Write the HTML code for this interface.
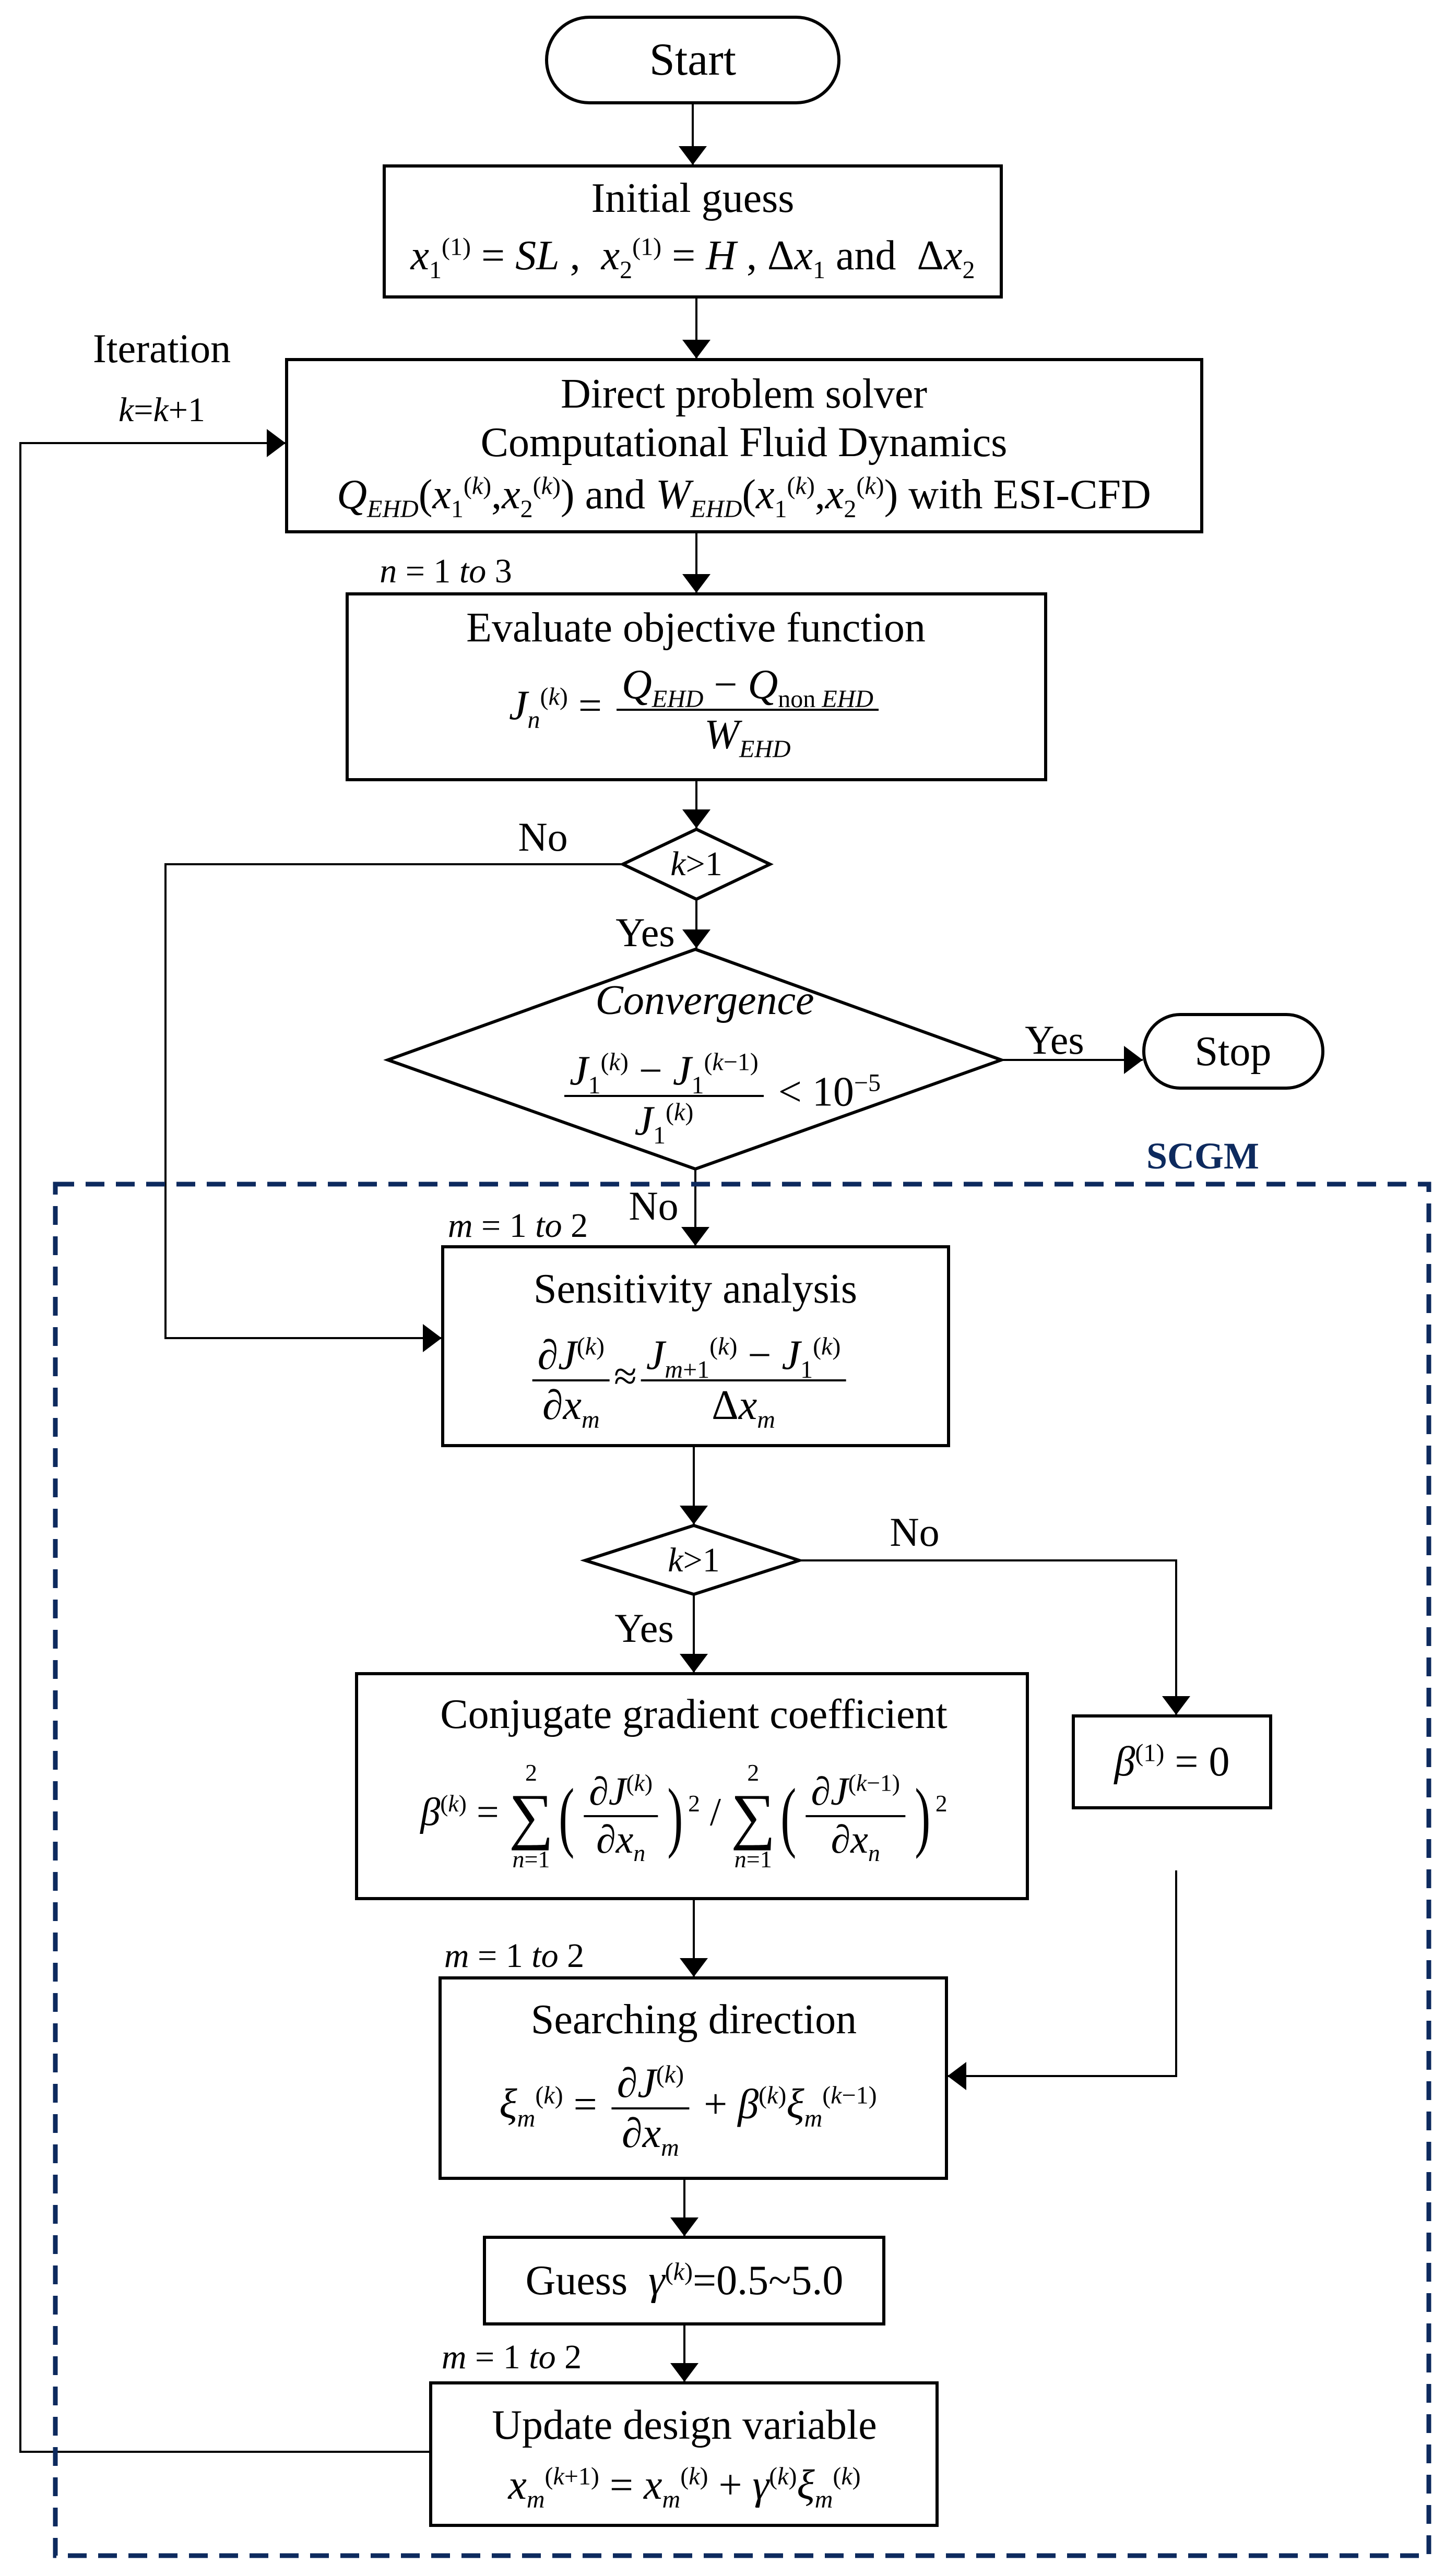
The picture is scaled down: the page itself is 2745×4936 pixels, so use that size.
<!DOCTYPE html>
<html><head><meta charset="utf-8"><style>
html,body{margin:0;padding:0;background:#fff}
body{width:2745px;height:4936px;position:relative;overflow:hidden;font-family:"Liberation Serif",serif;color:#000}
.t{position:absolute;transform:translate(-50%,-50%);white-space:nowrap;font-size:80px;line-height:1}
i{font-style:italic}
sup,sub{font-size:0.6em;line-height:0}
.frac{display:inline-flex;flex-direction:column;align-items:center;vertical-align:middle;margin:0 8px}
.frac>span{padding:4px 10px;line-height:1.05}
.frac>span:first-child{border-bottom:4px solid #000}
.big{font-size:150px;vertical-align:middle;line-height:1;display:inline-block;transform:scaleX(0.6)}
.sum{display:inline-flex;flex-direction:column;align-items:center;vertical-align:middle;line-height:1}
.sum .s{font-size:120px}
.sum .l{font-size:46px}
</style></head><body>
<svg width="2745" height="4936" style="position:absolute;left:0;top:0" xmlns="http://www.w3.org/2000/svg">
<defs><marker id="a" markerWidth="10" markerHeight="10" refX="9" refY="5" orient="auto" markerUnits="userSpaceOnUse" viewBox="0 0 10 10"><path d="M0,0 L10,5 L0,10z" fill="#000"/></marker>
<marker id="b" viewBox="0 0 10 10" refX="10" refY="5" markerWidth="36" markerHeight="54" orient="auto" markerUnits="userSpaceOnUse" preserveAspectRatio="none"><path d="M0,0 L10,5 L0,10z" fill="#000"/></marker></defs>
<g fill="none" stroke="#000" stroke-width="6">
<rect x="1047" y="33" width="560" height="164" rx="82"/>
<rect x="736" y="318" width="1182" height="251"/>
<rect x="549" y="689" width="1753" height="330"/>
<rect x="665" y="1138" width="1338" height="356"/>
<polygon points="1334,1589 1475,1656 1334,1723 1193,1656"/>
<polygon points="1332,1819 1918,2031 1332,2240 743,2031"/>
<rect x="2191" y="1944" width="343" height="141" rx="70"/>
<rect x="848" y="2389" width="969" height="381"/>
<polygon points="1329,2923 1531,2990 1329,3055 1121,2990"/>
<rect x="683" y="3207" width="1285" height="431"/>
<rect x="2056" y="3288" width="378" height="176"/>
<rect x="843" y="3790" width="970" height="384"/>
<rect x="928" y="4287" width="765" height="166"/>
<rect x="825" y="4566" width="970" height="273"/>
</g>
<g fill="none" stroke="#000" stroke-width="4">
<line x1="1327" y1="197" x2="1327" y2="316" marker-end="url(#b)"/>
<line x1="1334" y1="569" x2="1334" y2="687" marker-end="url(#b)"/>
<line x1="1334" y1="1019" x2="1334" y2="1136" marker-end="url(#b)"/>
<line x1="1334" y1="1494" x2="1334" y2="1587" marker-end="url(#b)"/>
<line x1="1334" y1="1723" x2="1334" y2="1817" marker-end="url(#b)"/>
<line x1="1918" y1="2031" x2="2189" y2="2031" marker-end="url(#b)"/>
<line x1="1332" y1="2240" x2="1332" y2="2387" marker-end="url(#b)"/>
<polyline points="1193,1656 317,1656 317,2564 846,2564" marker-end="url(#b)"/>
<line x1="1329" y1="2770" x2="1329" y2="2921" marker-end="url(#b)"/>
<line x1="1329" y1="3055" x2="1329" y2="3205" marker-end="url(#b)"/>
<polyline points="1531,2990 2253,2990 2253,3286" marker-end="url(#b)"/>
<polyline points="2253,3584 2253,3978 1815,3978" marker-end="url(#b)"/>
<line x1="1329" y1="3638" x2="1329" y2="3788" marker-end="url(#b)"/>
<line x1="1311" y1="4174" x2="1311" y2="4285" marker-end="url(#b)"/>
<line x1="1311" y1="4453" x2="1311" y2="4564" marker-end="url(#b)"/>
<polyline points="825,4698 39,4698 39,849 547,849" marker-end="url(#b)"/>
</g>
<rect x="106" y="2269" width="2631" height="2628" fill="none" stroke="#0d2a5e" stroke-width="9" stroke-dasharray="36,22"/>
</svg>

<div class="t" style="left:1327px;top:115px;font-size:88px">Start</div>
<div class="t" style="left:1327px;top:380px">Initial guess</div>
<div class="t" style="left:1327px;top:490px"><i>x</i><sub>1</sub><sup>(1)</sup> = <i>SL</i> ,&nbsp; <i>x</i><sub>2</sub><sup>(1)</sup> = <i>H</i> , Δ<i>x</i><sub>1</sub> and&nbsp; Δ<i>x</i><sub>2</sub></div>
<div class="t" style="left:310px;top:668px;font-size:78px">Iteration</div>
<div class="t" style="left:310px;top:786px;font-size:66px"><i>k</i>=<i>k</i>+1</div>
<div class="t" style="left:1425px;top:755px">Direct problem solver</div>
<div class="t" style="left:1425px;top:848px">Computational Fluid Dynamics</div>
<div class="t" style="left:1425px;top:948px"><i>Q<sub>EHD</sub></i>(<i>x</i><sub>1</sub><sup>(<i>k</i>)</sup>,<i>x</i><sub>2</sub><sup>(<i>k</i>)</sup>) and <i>W<sub>EHD</sub></i>(<i>x</i><sub>1</sub><sup>(<i>k</i>)</sup>,<i>x</i><sub>2</sub><sup>(<i>k</i>)</sup>) with ESI-CFD</div>
<div class="t" style="left:854px;top:1095px;font-size:66px"><i>n</i> = 1 <i>to</i> 3</div>
<div class="t" style="left:1333px;top:1203px">Evaluate objective function</div>
<div class="t" style="left:1333px;top:1360px"><i>J<sub>n</sub></i><sup>(<i>k</i>)</sup> = <span class="frac"><span><i>Q<sub>EHD</sub></i> − <i>Q</i><sub>non <i>EHD</i></sub></span><span><i>W<sub>EHD</sub></i></span></span></div>
<div class="t" style="left:1040px;top:1604px;font-size:78px">No</div>
<div class="t" style="left:1334px;top:1656px;font-size:66px"><i>k</i>&gt;1</div>
<div class="t" style="left:1236px;top:1787px;font-size:78px">Yes</div>
<div class="t" style="left:1350px;top:1917px;font-size:80px"><i>Convergence</i></div>
<div class="t" style="left:1380px;top:2100px"><span class="frac"><span><i>J</i><sub>1</sub><sup>(<i>k</i>)</sup> − <i>J</i><sub>1</sub><sup>(<i>k</i>−1)</sup></span><span><i>J</i><sub>1</sub><sup>(<i>k</i>)</sup></span></span> &lt; 10<sup>−5</sup></div>
<div class="t" style="left:2020px;top:1993px;font-size:78px">Yes</div>
<div class="t" style="left:2362px;top:2015px">Stop</div>
<div class="t" style="left:2304px;top:2215px;font-size:72px;font-weight:bold;color:#0d2a5e">SCGM</div>
<div class="t" style="left:1252px;top:2311px;font-size:78px">No</div>
<div class="t" style="left:992px;top:2349px;font-size:66px"><i>m</i> = 1 <i>to</i> 2</div>
<div class="t" style="left:1332px;top:2470px">Sensitivity analysis</div>
<div class="t" style="left:1320px;top:2645px"><span class="frac"><span>∂<i>J</i><sup>(<i>k</i>)</sup></span><span>∂<i>x<sub>m</sub></i></span></span>≈<span class="frac"><span><i>J</i><sub><i>m</i>+1</sub><sup>(<i>k</i>)</sup> − <i>J</i><sub>1</sub><sup>(<i>k</i>)</sup></span><span>Δ<i>x<sub>m</sub></i></span></span></div>
<div class="t" style="left:1752px;top:2936px;font-size:78px">No</div>
<div class="t" style="left:1329px;top:2990px;font-size:66px"><i>k</i>&gt;1</div>
<div class="t" style="left:1234px;top:3120px;font-size:78px">Yes</div>
<div class="t" style="left:1329px;top:3285px">Conjugate gradient coefficient</div>
<div class="t" style="left:1310px;top:3480px;font-size:76px"><i>β</i><sup>(<i>k</i>)</sup> = <span class="sum"><span class="l">2</span><span class="s">∑</span><span class="l"><i>n</i>=1</span></span><span class="big">(</span><span class="frac"><span>∂<i>J</i><sup>(<i>k</i>)</sup></span><span>∂<i>x<sub>n</sub></i></span></span><span class="big">)</span><sup>2</sup> / <span class="sum"><span class="l">2</span><span class="s">∑</span><span class="l"><i>n</i>=1</span></span><span class="big">(</span><span class="frac"><span>∂<i>J</i><sup>(<i>k</i>−1)</sup></span><span>∂<i>x<sub>n</sub></i></span></span><span class="big">)</span><sup>2</sup></div>
<div class="t" style="left:2245px;top:3376px"><i>β</i><sup>(1)</sup> = 0</div>
<div class="t" style="left:985px;top:3748px;font-size:66px"><i>m</i> = 1 <i>to</i> 2</div>
<div class="t" style="left:1329px;top:3870px">Searching direction</div>
<div class="t" style="left:1318px;top:4040px"><i>ξ<sub>m</sub></i><sup>(<i>k</i>)</sup> = <span class="frac"><span>∂<i>J</i><sup>(<i>k</i>)</sup></span><span>∂<i>x<sub>m</sub></i></span></span> + <i>β</i><sup>(<i>k</i>)</sup><i>ξ<sub>m</sub></i><sup>(<i>k</i>−1)</sup></div>
<div class="t" style="left:1311px;top:4370px">Guess&nbsp; <i>γ</i><sup>(<i>k</i>)</sup>=0.5~5.0</div>
<div class="t" style="left:980px;top:4517px;font-size:66px"><i>m</i> = 1 <i>to</i> 2</div>
<div class="t" style="left:1311px;top:4647px">Update design variable</div>
<div class="t" style="left:1311px;top:4762px"><i>x<sub>m</sub></i><sup>(<i>k</i>+1)</sup> = <i>x<sub>m</sub></i><sup>(<i>k</i>)</sup> + <i>γ</i><sup>(<i>k</i>)</sup><i>ξ<sub>m</sub></i><sup>(<i>k</i>)</sup></div>
</body></html>
